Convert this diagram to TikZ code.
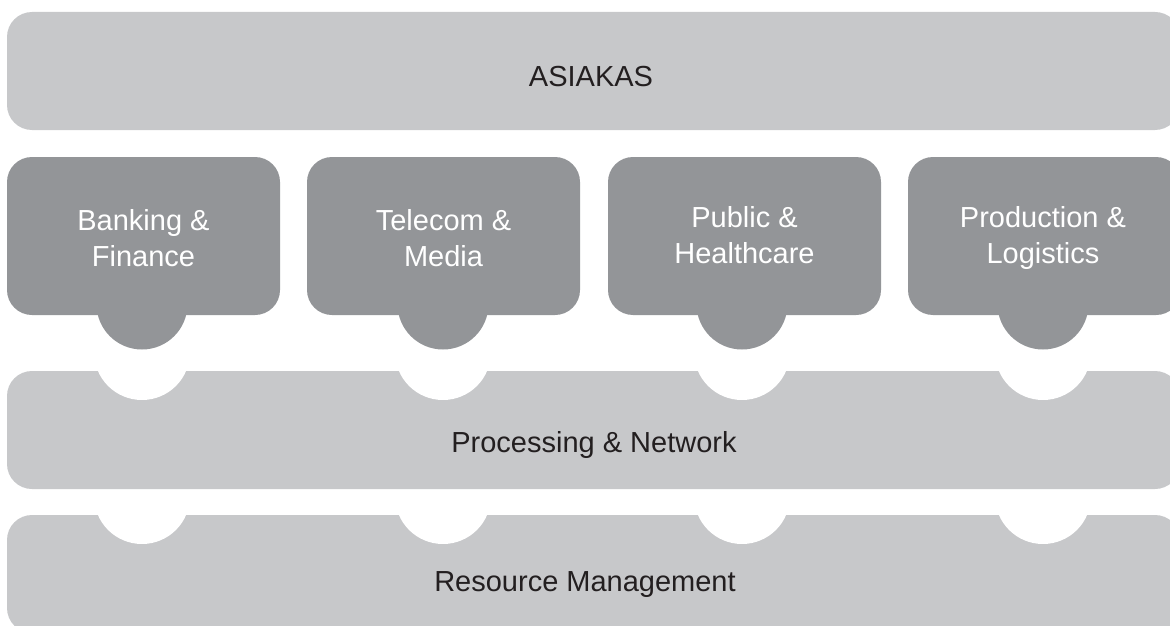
\documentclass[tikz,border=0pt]{standalone}
\usepackage{fontspec}
\setmainfont{Liberation Sans}
\definecolor{lightbar}{HTML}{C7C8CA}
\definecolor{darkbox}{HTML}{939598}
\definecolor{txt}{HTML}{231F20}
\begin{document}
\begin{tikzpicture}[x=1pt,y=-1pt,
  barfill/.style={fill=lightbar,rounded corners=25pt},
  boxfill/.style={fill=darkbox,rounded corners=25pt},
  notch/.style={fill=white},
  tab/.style={fill=darkbox},
  bartext/.style={text=txt,font=\fontsize{29}{36}\selectfont,anchor=base,inner sep=0pt},
  boxtext/.style={text=white,font=\fontsize{29}{36}\selectfont,align=center,inner sep=0pt}]
\useasboundingbox (0,0) rectangle (1170,626);
\begin{scope}
\clip (0,0) rectangle (1170,626);
% bottom bar
\fill[barfill] (7,515) rectangle (1180,633);
\foreach \cx in {142,443,742,1043} \fill[notch] (\cx,496) circle (48);
% middle bar
\fill[barfill] (7,371) rectangle (1180,489);
\foreach \cx in {142,443,742,1043} \fill[notch] (\cx,352) circle (48);
% top bar
\fill[barfill] (7,12) rectangle (1180,130);
% dark boxes with tabs
\foreach \l/\cx in {7/142,307/443,608/742,908/1043}{
  \fill[tab] (\cx,304) circle (45.5);
  \fill[boxfill] (\l,157) rectangle ++(273,158);
}
\end{scope}
\node[bartext] (asiakas) at (591,86) {ASIAKAS};
\node[bartext] (proc) at (594,452) {Processing \& Network};
\node[bartext] (res) at (585,591) {Resource Management};
\node[boxtext] (bank) at (143.5,238) {Banking \&\\Finance};
\node[boxtext] (tele) at (443.5,238) {Telecom \&\\Media};
\node[boxtext] (publ) at (744.5,235) {Public \&\\Healthcare};
\node[boxtext] (prod) at (1043,238) {Production \&\\Logistics};
\end{tikzpicture}
\end{document}
